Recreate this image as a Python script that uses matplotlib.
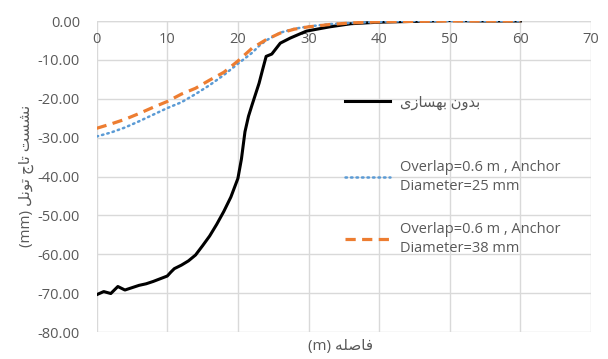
import matplotlib.pyplot as plt
from matplotlib.ticker import FormatStrFormatter

# settlement of tunnel crown vs distance
x_none = [0, 1, 2, 3, 4, 5, 6, 7, 8, 9, 10, 10.5, 11, 12, 13, 14, 15, 16, 17, 18, 19, 20,
          20.5, 21, 21.5, 22, 23, 23.5, 24, 24.8, 26, 27.4, 29.7, 33, 36, 40, 45, 50, 55, 60]
y_none = [-70.4, -69.6, -70.1, -68.3, -69.2, -68.6, -68.0, -67.6, -67.0, -66.3, -65.6, -64.6,
          -63.7, -62.8, -61.7, -60.2, -57.8, -55.3, -52.3, -49.0, -45.3, -40.5,
          -35.5, -28.5, -24.5, -21.6, -16.0, -12.5, -9.1, -8.5, -5.7, -4.4, -2.6, -1.5, -0.7,
          -0.3, -0.1, 0.1, 0.0, 0.0]

x_25 = [0, 2, 4, 6, 8, 10, 12, 14, 16, 18, 20, 22, 23, 24, 26, 28, 30, 33, 36, 40, 45, 50, 55, 60]
y_25 = [-29.7, -28.7, -27.4, -25.8, -24.1, -22.4, -20.9, -18.8, -16.5, -13.9, -11.0, -8.2,
        -6.4, -5.0, -3.0, -2.0, -1.4, -0.8, -0.5, -0.2, 0.0, 0.0, 0.0, 0.0]

x_38 = [0, 2, 4, 6, 8, 10, 12, 14, 16, 18, 20, 22, 24, 26, 28, 30, 33, 36, 40, 45, 50, 55, 60]
y_38 = [-27.6, -26.5, -25.3, -23.8, -22.2, -20.7, -18.8, -17.3, -15.2, -13.2, -10.3, -7.0,
        -4.8, -3.1, -2.1, -1.5, -0.9, -0.5, -0.2, -0.1, 0.0, 0.0, 0.0]

# Arabic script written in presentation forms (visual order)
lbl_none = "\uFBFC\uFEAF\uFE8E\uFEB4\uFEEC\uFE91 \uFEE5\uFEED\uFEAA\uFE91"
lbl_25 = "Overlap=0.6 m , Anchor\nDiameter=25 mm"
lbl_38 = "Overlap=0.6 m , Anchor\nDiameter=38 mm"
xlabel = "(m) \uFEEA\uFEE0\uFEBB\uFE8E\uFED3"
ylabel = "(mm) \uFEDE\uFEE7\uFEEE\uFE97 \uFE9D\uFE8E\uFE97 \uFE96\uFEB4\uFEB8\uFEE7"

plt.rcParams['font.family'] = ['Open Sans', 'DejaVu Sans']
gray = '#595959'

fig = plt.figure(figsize=(6.08, 3.59), dpi=100)
ax = fig.add_axes([0.159, 0.0752, 0.813, 0.8663])

l1, = ax.plot(x_none, y_none, color='black', lw=2.2, solid_joinstyle='round')
l2, = ax.plot(x_25, y_25, color='#5B9BD5', lw=1.8, linestyle=(0, (0.6, 1.6)),
              dash_capstyle='round')
l3, = ax.plot(x_38, y_38, color='#ED7D31', lw=2.3, linestyle=(0, (3.2, 2.0)))

ax.set_xlim(0, 70)
ax.set_ylim(-80, 0)
ax.set_xticks(range(0, 71, 10))
ax.set_yticks(range(-80, 1, 10))
ax.yaxis.set_major_formatter(FormatStrFormatter('%.2f'))
ax.grid(True, color='#d9d9d9', lw=1)
ax.set_axisbelow(True)
for s in ax.spines.values():
    s.set_visible(False)
ax.axhline(0, color='#d9d9d9', lw=1, zorder=0.5)

ax.tick_params(axis='x', top=True, labeltop=True, bottom=False, labelbottom=False,
               length=0, pad=-19, labelsize=10.5, labelcolor=gray)
ax.tick_params(axis='y', length=0, pad=12, labelsize=10.5, labelcolor=gray)

fig.text(0.56, 0.035, xlabel, color=gray, fontsize=11, ha='center', va='center')
fig.text(0.043, 0.51, ylabel, color=gray, fontsize=11, ha='center', va='center',
         rotation=90)

# three legend entries placed like the original
common = dict(frameon=False, borderpad=0, borderaxespad=0, handlelength=3.1,
              handletextpad=0.7, fontsize=10.5, labelcolor=gray, loc='center left')
leg1 = fig.legend([l1], [lbl_none], bbox_to_anchor=(345 / 608, 1 - 103 / 359), **common)
leg2 = fig.legend([l2], [lbl_25], bbox_to_anchor=(345 / 608, 1 - 177 / 359), **common)
leg3 = fig.legend([l3], [lbl_38], bbox_to_anchor=(345 / 608, 1 - 239 / 359), **common)
for lg in (leg2, leg3):
    for t in lg.get_texts():
        t.set_linespacing(1.45)

fig.savefig('out.png', dpi=100)
